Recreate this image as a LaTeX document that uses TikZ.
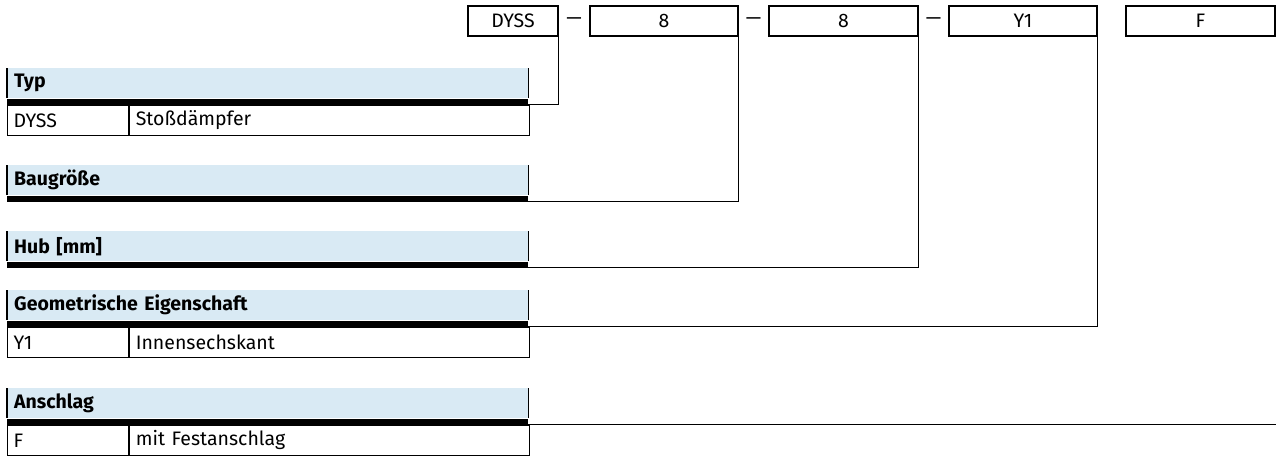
\documentclass[tikz,border=0pt]{standalone}
\usepackage{fontspec}
\setmainfont{Fira Sans}
\usetikzlibrary{positioning, calc}
\definecolor{kopfblau}{HTML}{D9EAF4}
\newcommand{\zellfont}{\fontsize{19.5}{23}\selectfont}
\newcommand{\kopffont}{\fontsize{19.5}{23}\selectfont\bfseries}
\tikzset{
  codebox/.style={draw, line width=1.2pt, minimum height=30pt, inner sep=0pt, font=\zellfont},
  strich/.style={inner sep=0pt, font=\zellfont},
  kopfbox/.style={fill=kopfblau, anchor=north west, minimum width=521pt, minimum height=30pt,
                  text width=507pt, inner xsep=7pt, inner ysep=0pt, align=left, font=\kopffont},
  balken/.style={fill=black, minimum width=521pt, minimum height=6pt, inner sep=0pt},
  kcell/.style={draw, line width=1.2pt, minimum width=121pt, minimum height=30pt,
                text width=109pt, inner xsep=6pt, inner ysep=0pt, align=left, font=\zellfont},
  vcell/.style={draw, line width=1.2pt, minimum width=400pt, minimum height=30pt,
                text width=388pt, inner xsep=6pt, inner ysep=0pt, align=left, font=\zellfont},
  rand/.style={line width=1.2pt},
  verb/.style={line width=1.2pt},
}

\begin{document}
\begin{tikzpicture}[x=1pt, y=-1pt]
  \useasboundingbox (0,0) rectangle (1276,456);

  % Bestellschluessel oben
  \node[codebox, minimum width=90pt] (dyss) at (513,21) {DYSS};
  \node[codebox, minimum width=148pt] (bg) at (664,21) {8};
  \node[codebox, minimum width=149pt] (hub) at (843.5,21) {8};
  \node[codebox, minimum width=148pt] (geo) at (1023,21) {Y1};
  \node[codebox, minimum width=149pt] (ans) at (1200.5,21) {F};
  \node[strich] (s1) at ($(dyss.east)!0.5!(bg.west)$) {\textemdash};
  \node[strich] (s2) at ($(bg.east)!0.5!(hub.west)$) {\textemdash};
  \node[strich] (s3) at ($(hub.east)!0.5!(geo.west)$) {\textemdash};

  % Typ
  \node[kopfbox] (typ) at (7,68) {Typ};
  \node[balken, below=0pt of typ] (typbar) {};
  \node[kcell, anchor=north west] (typk) at (typbar.south west) {DYSS};
  \node[vcell, right=0pt of typk] (typv) {Stoßdämpfer};
  \draw[rand] (typ.north west) -- (typ.south west) (typ.north east) -- (typ.south east);

  % Baugroesse
  \node[kopfbox] (bgk) at (7,165) {Baugröße};
  \node[balken, below=0pt of bgk] (bgbar) {};
  \draw[rand] (bgk.north west) -- (bgk.south west) (bgk.north east) -- (bgk.south east);

  % Hub
  \node[kopfbox] (hubk) at (7,231) {Hub [mm]};
  \node[balken, below=0pt of hubk] (hubbar) {};
  \draw[rand] (hubk.north west) -- (hubk.south west) (hubk.north east) -- (hubk.south east);

  % Geometrische Eigenschaft
  \node[kopfbox] (geok) at (7,290) {Geometrische Eigenschaft};
  \node[balken, below=0pt of geok] (geobar) {};
  \node[kcell, anchor=north west] (geok1) at (geobar.south west) {Y1};
  \node[vcell, right=0pt of geok1] (geov) {Innensechskant};
  \draw[rand] (geok.north west) -- (geok.south west) (geok.north east) -- (geok.south east);

  % Anschlag
  \node[kopfbox] (ansk) at (7,388) {Anschlag};
  \node[balken, below=0pt of ansk] (ansbar) {};
  \node[kcell, anchor=north west] (ansk1) at (ansbar.south west) {F};
  \node[vcell, right=0pt of ansk1] (ansv) {mit Festanschlag};
  \draw[rand] (ansk.north west) -- (ansk.south west) (ansk.north east) -- (ansk.south east);

  % Verbindungslinien
  \coordinate (fkante) at (1278,36);
  \draw[verb] (dyss.south east) |- (typbar.south east);
  \draw[verb] (bg.south east) |- (bgbar.south east);
  \draw[verb] (hub.south east) |- (hubbar.south east);
  \draw[verb] (geo.south east) |- (geobar.south east);
  \draw[verb] (fkante) |- (ansbar.south east);
\end{tikzpicture}
\end{document}
